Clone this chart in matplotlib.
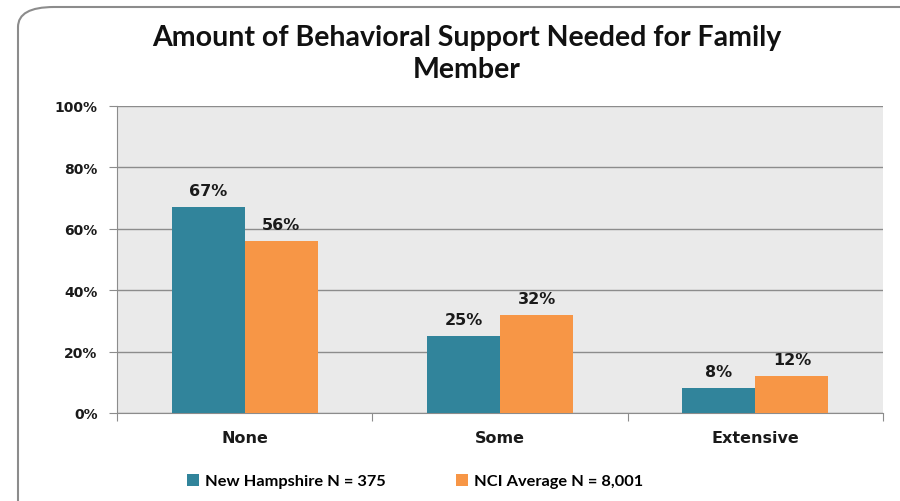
import numpy as np
import matplotlib.pyplot as plt
from matplotlib.patches import FancyBboxPatch

categories = ['None', 'Some', 'Extensive']
new_hampshire = [67, 25, 8]
nci_average = [56, 32, 12]
series_names = ['New Hampshire N = 375', 'NCI Average N = 8,001']
y_ticks = [0, 20, 40, 60, 80, 100]

teal = '#31849B'
orange = '#F79646'

fig = plt.figure(figsize=(9, 5.02), dpi=100)

# rounded frame around the chart
frame = FancyBboxPatch((18 / 900, -0.2), 1.2, 1.2 - 8 / 502,
                       boxstyle='round,pad=0,rounding_size=0.04',
                       transform=fig.transFigure, fill=False,
                       edgecolor='#8c8c8c', linewidth=1.5)
fig.patches.append(frame)

ax = fig.add_axes([117 / 900, 88 / 502, 766 / 900, 307 / 502])
ax.set_facecolor('#EAEAEA')

x = np.arange(len(categories))
w = 0.286
b1 = ax.bar(x - w / 2, new_hampshire, w, color=teal, label=series_names[0], zorder=3)
b2 = ax.bar(x + w / 2, nci_average, w, color=orange, label=series_names[1], zorder=3)

for bars, vals in ((b1, new_hampshire), (b2, nci_average)):
    for r, v in zip(bars, vals):
        ax.text(r.get_x() + r.get_width() / 2, v + 3, f'{v}%', ha='center', va='bottom',
                fontsize=11.5, fontweight='bold', family='DejaVu Sans', color='#1a1a1a')

ax.set_xlim(-0.5, 2.5)
ax.set_ylim(0, 100)
ax.set_yticks(y_ticks)
ax.set_yticklabels([f'{t}%' for t in y_ticks], fontsize=10, fontweight='bold', color='#1a1a1a')
ax.yaxis.grid(True, color='#8c8c8c', linewidth=1, zorder=0)
ax.set_axisbelow(True)

ax.set_xticks([-0.5, 0.5, 1.5, 2.5])
ax.set_xticklabels([])
ax.set_xticks(x, minor=True)
ax.set_xticklabels(categories, minor=True, fontsize=11.5, fontweight='bold', color='#1a1a1a')
ax.tick_params(axis='x', which='minor', length=0, pad=12)
ax.tick_params(axis='x', which='major', length=6, color='#8c8c8c')
ax.tick_params(axis='y', length=6, color='#8c8c8c', pad=8)

for s in ['top', 'right']:
    ax.spines[s].set_visible(False)
ax.spines['left'].set_color('#8c8c8c')
ax.spines['bottom'].set_color('#8c8c8c')

fig.text(467 / 900, 1 - 54 / 502, 'Amount of Behavioral Support Needed for Family\nMember',
         ha='center', va='center', fontsize=20.5, fontweight='bold', family='Lato',
         linespacing=1.25, color='#111111')

fig.legend(handles=[b1, b2], labels=series_names, loc='center',
           bbox_to_anchor=(415 / 900, 1 - 482 / 502), ncol=2, frameon=False,
           prop={'family': 'Lato', 'weight': 'bold', 'size': 11.8},
           handlelength=0.75, handleheight=0.75, handletextpad=0.35, columnspacing=4.3)

fig.savefig('out.png', dpi=100)
